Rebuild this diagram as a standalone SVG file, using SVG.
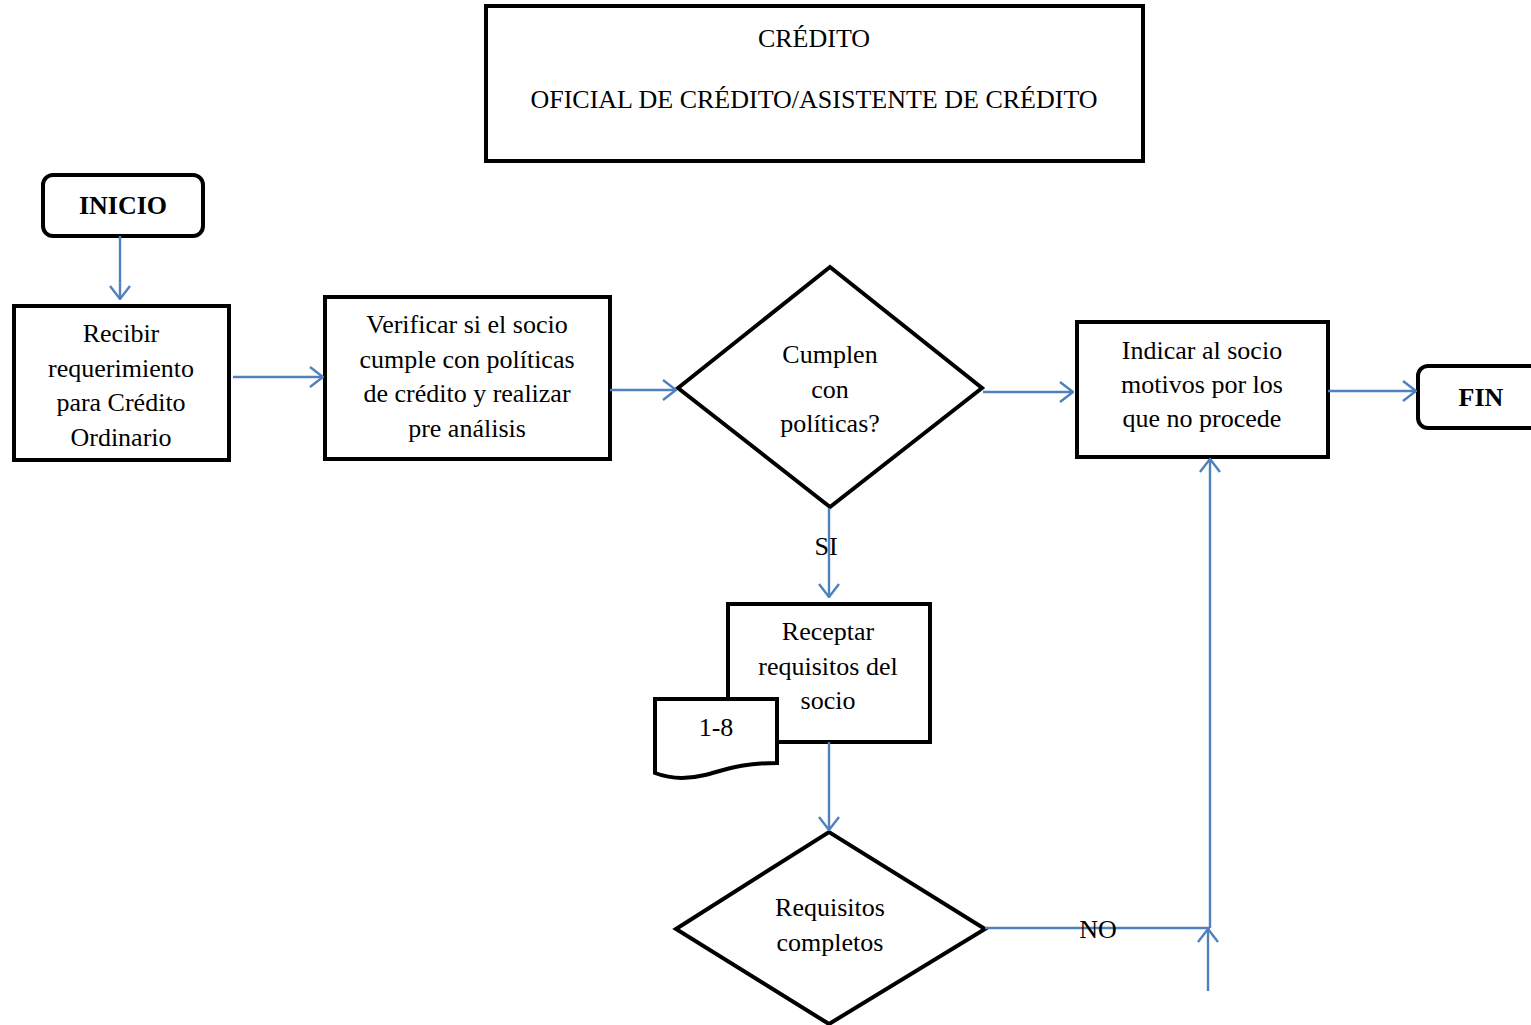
<svg xmlns="http://www.w3.org/2000/svg" width="1531" height="1025" viewBox="0 0 1531 1025">
  <style>
    .box { fill: #ffffff; stroke: #000000; stroke-width: 4; }
    .t { font-family: "Liberation Serif", "Times New Roman", serif; font-size: 26px; fill: #000000; text-anchor: middle; }
    .b { font-weight: bold; }
    .conn { fill: none; stroke: #4F81BD; stroke-width: 2.4; }
  </style>
  <defs>
    <marker id="arrow" viewBox="0 0 16 24" refX="15" refY="12" markerWidth="16" markerHeight="24" markerUnits="userSpaceOnUse" orient="auto">
      <path d="M2,2 L15,12 L2,22" fill="none" stroke="#4F81BD" stroke-width="2.4"/>
    </marker>
  </defs>
  <rect width="1531" height="1025" fill="#ffffff"/>

  <g id="title">
    <rect class="box" x="486" y="6" width="657" height="155"/>
    <text class="t" x="814" y="47">CRÉDITO</text>
    <text class="t" x="814" y="108">OFICIAL DE CRÉDITO/ASISTENTE DE CRÉDITO</text>
  </g>

  <g id="inicio">
    <rect class="box" x="43" y="175" width="160" height="61" rx="10"/>
    <text class="t b" x="123" y="214">INICIO</text>
  </g>

  <g id="recibir">
    <rect class="box" x="14" y="306" width="215" height="154"/>
    <text class="t" x="121" y="342">Recibir</text>
    <text class="t" x="121" y="377">requerimiento</text>
    <text class="t" x="121" y="411">para Crédito</text>
    <text class="t" x="121" y="446">Ordinario</text>
  </g>

  <g id="verificar">
    <rect class="box" x="325" y="297" width="285" height="162"/>
    <text class="t" x="467" y="333">Verificar si el socio</text>
    <text class="t" x="467" y="368">cumple con políticas</text>
    <text class="t" x="467" y="402">de crédito y realizar</text>
    <text class="t" x="467" y="437">pre análisis</text>
  </g>

  <g id="cumplen">
    <polygon class="box" points="678,388 830,267 982,388 830,507"/>
    <text class="t" x="830" y="363">Cumplen</text>
    <text class="t" x="830" y="398">con</text>
    <text class="t" x="830" y="432">políticas?</text>
  </g>

  <g id="indicar">
    <rect class="box" x="1077" y="322" width="251" height="135"/>
    <text class="t" x="1202" y="359">Indicar al socio</text>
    <text class="t" x="1202" y="393">motivos por los</text>
    <text class="t" x="1202" y="427">que no procede</text>
  </g>

  <g id="fin">
    <rect class="box" x="1418" y="366" width="130" height="62" rx="10"/>
    <text class="t b" x="1481" y="406">FIN</text>
  </g>

  <g id="receptar">
    <rect class="box" x="728" y="604" width="202" height="138"/>
    <text class="t" x="828" y="640">Receptar</text>
    <text class="t" x="828" y="675">requisitos del</text>
    <text class="t" x="828" y="709">socio</text>
  </g>

  <g id="documento">
    <path class="box" d="M655,699 L777,699 L777,763 C740,763 725,770 705,775 C685,780 668,778 655,773 Z"/>
    <text class="t" x="716" y="736">1-8</text>
  </g>

  <g id="requisitos">
    <polygon class="box" points="676,929 829,832 985,929 829,1024"/>
    <text class="t" x="830" y="916">Requisitos</text>
    <text class="t" x="830" y="951">completos</text>
  </g>

  <g id="connectors">
    <line class="conn" x1="120" y1="236" x2="120" y2="299" marker-end="url(#arrow)"/>
    <line class="conn" x1="233" y1="377" x2="323" y2="377" marker-end="url(#arrow)"/>
    <line class="conn" x1="610" y1="390" x2="676" y2="390" marker-end="url(#arrow)"/>
    <line class="conn" x1="983" y1="392" x2="1073" y2="392" marker-end="url(#arrow)"/>
    <line class="conn" x1="1328" y1="391" x2="1416" y2="391" marker-end="url(#arrow)"/>
    <line class="conn" x1="829" y1="508" x2="829" y2="597" marker-end="url(#arrow)"/>
    <text class="t" x="826" y="555">SI</text>
    <line class="conn" x1="829" y1="742" x2="829" y2="830" marker-end="url(#arrow)"/>
    <line class="conn" x1="985" y1="928" x2="1210" y2="928"/>
    <line class="conn" x1="1210" y1="928" x2="1210" y2="459" marker-end="url(#arrow)"/>
    <line class="conn" x1="1208" y1="991" x2="1208" y2="929" marker-end="url(#arrow)"/>
    <text class="t" x="1098" y="938">NO</text>
  </g>
</svg>
